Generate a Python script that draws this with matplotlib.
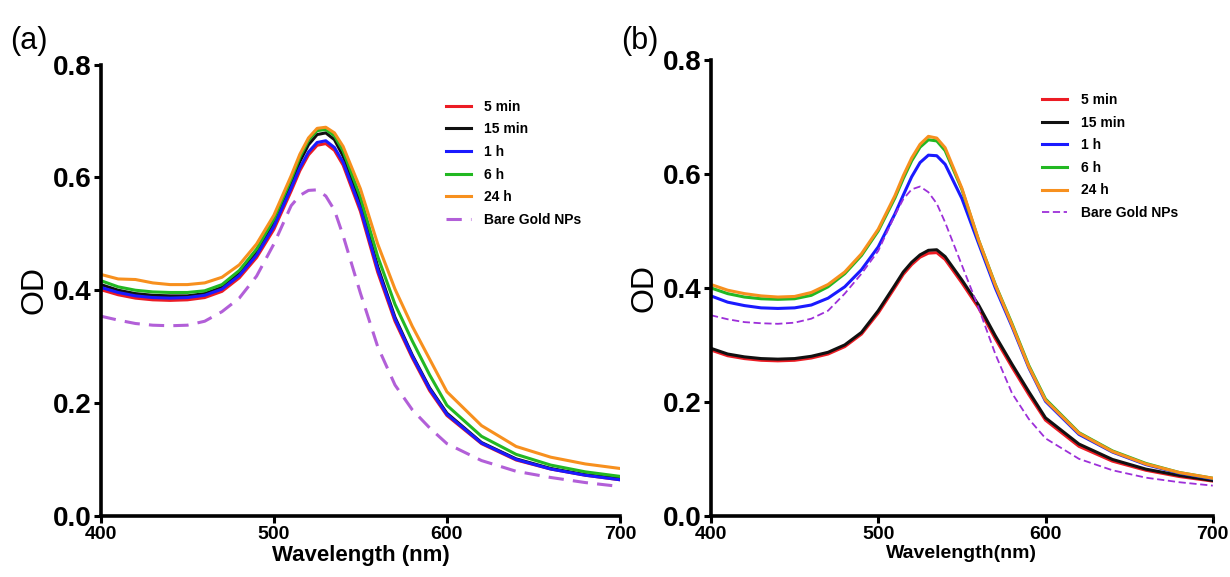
import matplotlib
matplotlib.use("Agg")
import matplotlib.pyplot as plt

plt.rcParams["font.family"] = ["Liberation Sans", "DejaVu Sans"]

wavelength = [400, 410, 420, 430, 440, 450, 460, 470, 480, 490, 500, 510, 515, 520, 525,
              530, 535, 540, 550, 560, 570, 580, 590, 600, 620, 640, 660, 680, 700]

# panel (a)
a_5min = [.401, .392, .386, .383, .382, .383, .387, .398, .422, .458, .508, .576, .612, .640, .657,
          .660, .648, .622, .540, .432, .345, .280, .222, .178, .128, .099, .083, .072, .064]
a_15min = [.410, .400, .394, .391, .390, .390, .394, .405, .430, .467, .519, .590, .628, .658, .676,
           .679, .667, .638, .553, .442, .352, .285, .227, .182, .130, .101, .084, .073, .066]
a_1h = [.405, .396, .390, .387, .386, .387, .391, .402, .426, .462, .513, .581, .617, .645, .662,
        .665, .653, .627, .545, .437, .349, .283, .225, .180, .129, .100, .083, .072, .064]
a_6h = [.417, .406, .400, .397, .396, .396, .399, .410, .435, .473, .526, .597, .636, .666, .683,
        .685, .674, .647, .565, .460, .375, .310, .250, .196, .141, .109, .090, .078, .070]
a_24h = [.428, .420, .419, .413, .410, .410, .413, .423, .445, .482, .533, .603, .641, .670, .687,
         .689, .679, .655, .580, .482, .402, .336, .278, .220, .160, .123, .104, .092, .084]
a_bare = [.354, .347, .341, .338, .337, .338, .345, .362, .386, .425, .482, .550, .568, .577, .578,
          .567, .542, .497, .395, .300, .232, .188, .156, .128, .098, .079, .068, .059, .052]

# panel (b)
b_5min = [.291, .281, .276, .273, .272, .273, .277, .284, .297, .319, .356, .401, .424, .441, .454,
          .461, .462, .450, .409, .365, .311, .261, .213, .168, .122, .096, .080, .069, .061]
b_15min = [.294, .284, .279, .276, .275, .276, .280, .287, .300, .322, .360, .405, .428, .445, .458,
           .466, .467, .455, .414, .370, .316, .266, .218, .172, .126, .099, .082, .071, .062]
b_1h = [.386, .375, .369, .365, .364, .365, .370, .382, .402, .432, .472, .530, .563, .595, .620,
        .633, .632, .617, .557, .478, .400, .332, .260, .201, .143, .112, .090, .075, .065]
b_6h = [.400, .390, .384, .381, .380, .381, .387, .402, .425, .457, .500, .558, .592, .623, .647,
        .660, .658, .641, .573, .484, .406, .337, .264, .205, .146, .114, .092, .076, .066]
b_24h = [.406, .396, .390, .386, .384, .385, .392, .406, .428, .460, .503, .562, .597, .628, .652,
         .666, .663, .646, .575, .484, .405, .335, .262, .203, .145, .113, .091, .076, .066]
b_bare = [.352, .345, .340, .338, .337, .339, .346, .360, .390, .425, .465, .528, .556, .573, .578,
          .568, .548, .515, .440, .365, .284, .215, .170, .136, .100, .080, .067, .059, .053]

labels = ["5 min", "15 min", "1 h", "6 h", "24 h", "Bare Gold NPs"]
colors = ["#ec1c24", "#111111", "#1a1aff", "#22b822", "#f7901e"]


def style_axes(ax, xlabel, xlabel_size):
    ax.set_xlim(400, 700)
    ax.set_ylim(0, 0.8)
    ax.set_xticks([400, 500, 600, 700])
    ax.set_yticks([0.0, 0.2, 0.4, 0.6, 0.8])
    ax.set_yticklabels(["0.0", "0.2", "0.4", "0.6", "0.8"])
    for s in ["top", "right"]:
        ax.spines[s].set_visible(False)
    for s in ["left", "bottom"]:
        ax.spines[s].set_linewidth(2.6)
    ax.tick_params(direction="out", length=5, width=2.2, pad=2)
    for t in ax.get_yticklabels():
        t.set_fontsize(20)
        t.set_fontweight("bold")
    for t in ax.get_xticklabels():
        t.set_fontsize(14)
        t.set_fontweight("bold")
    ax.set_xlabel(xlabel, fontsize=xlabel_size, fontweight="bold", labelpad=2)
    ax.set_ylabel("OD", fontsize=23, labelpad=2)


fig = plt.figure(figsize=(12.3, 5.77), dpi=100)

ax1 = fig.add_axes([0.082, 0.106, 0.422, 0.782])
for ys, c, lab in zip([a_5min, a_15min, a_1h, a_6h, a_24h], colors, labels):
    ax1.plot(wavelength, ys, color=c, lw=2.2, label=lab)
ax1.plot(wavelength, a_bare, color="#b25fd8", lw=2.2, ls=(0, (5, 3)), label=labels[5])
style_axes(ax1, "Wavelength (nm)", 16)
ax1.legend(loc="upper left", bbox_to_anchor=(0.64, 0.95), frameon=False,
           prop={"weight": "bold", "size": 10}, handlelength=1.8, labelspacing=0.62,
           handletextpad=1.0)

ax2 = fig.add_axes([0.578, 0.106, 0.408, 0.790])
for ys, c, lab in zip([b_5min, b_15min, b_1h, b_6h, b_24h], colors, labels):
    ax2.plot(wavelength, ys, color=c, lw=2.2, label=lab)
ax2.plot(wavelength, b_bare, color="#9d2fd9", lw=1.3, ls=(0, (4, 2)), label=labels[5])
style_axes(ax2, "Wavelength(nm)", 14)
ax2.legend(loc="upper left", bbox_to_anchor=(0.635, 0.955), frameon=False,
           prop={"weight": "bold", "size": 10}, handlelength=1.8, labelspacing=0.62,
           handletextpad=1.0)

fig.text(0.008, 0.915, "(a)", fontsize=22)
fig.text(0.505, 0.915, "(b)", fontsize=22)

fig.savefig("out.png", dpi=100)
